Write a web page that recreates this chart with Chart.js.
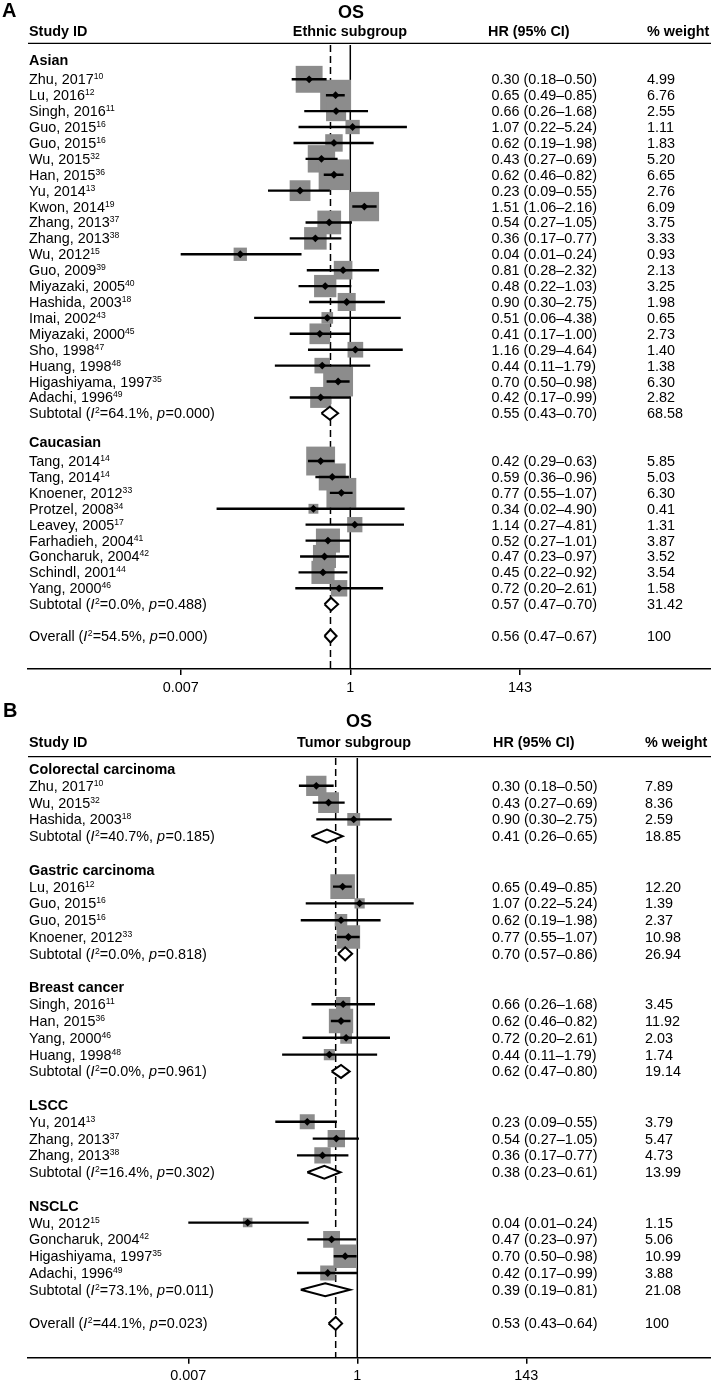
<!DOCTYPE html>
<html><head><meta charset="utf-8">
<script src="https://cdn.jsdelivr.net/npm/chart.js@4.4.1/dist/chart.umd.min.js"></script>
<style>
html,body{margin:0;padding:0;background:#fff;}
#wrap{position:relative;width:711px;height:1382px;overflow:hidden;background:#fff;}
canvas{position:absolute;left:0;}
</style></head><body>
<div id="wrap">
<canvas id="cA" width="711" height="698" style="top:0px"></canvas>
<canvas id="cB" width="711" height="684" style="top:698px"></canvas>
</div>
<script>
// ---------------- Panel A: ethnic subgroup ----------------
const A_title = "OS";
const A_headers = ["Study ID", "Ethnic subgroup", "HR (95% CI)", "% weight"];
const A_groups = ["Asian", "Caucasian"];
const A_names = ["Zhu, 2017","Lu, 2016","Singh, 2016","Guo, 2015","Guo, 2015","Wu, 2015","Han, 2015","Yu, 2014","Kwon, 2014","Zhang, 2013","Zhang, 2013","Wu, 2012","Guo, 2009","Miyazaki, 2005","Hashida, 2003","Imai, 2002","Miyazaki, 2000","Sho, 1998","Huang, 1998","Higashiyama, 1997","Adachi, 1996","Tang, 2014","Tang, 2014","Knoener, 2012","Protzel, 2008","Leavey, 2005","Farhadieh, 2004","Goncharuk, 2004","Schindl, 2001","Yang, 2000"];
const A_refs = ["10","12","11","16","16","32","36","13","19","37","38","15","39","40","18","43","45","47","48","35","49","14","14","33","34","17","41","42","44","46"];
const A_grp = [0,0,0,0,0,0,0,0,0,0,0,0,0,0,0,0,0,0,0,0,0,1,1,1,1,1,1,1,1,1];
const A_hr = [0.30,0.65,0.66,1.07,0.62,0.43,0.62,0.23,1.51,0.54,0.36,0.04,0.81,0.48,0.90,0.51,0.41,1.16,0.44,0.70,0.42,0.42,0.59,0.77,0.34,1.14,0.52,0.47,0.45,0.72];
const A_lo = [0.18,0.49,0.26,0.22,0.19,0.27,0.46,0.09,1.06,0.27,0.17,0.007,0.28,0.22,0.30,0.06,0.17,0.29,0.11,0.50,0.17,0.29,0.36,0.55,0.02,0.27,0.27,0.23,0.22,0.20];
const A_hi = [0.50,0.85,1.68,5.24,1.98,0.69,0.82,0.55,2.16,1.05,0.77,0.24,2.32,1.03,2.75,4.38,1.00,4.64,1.79,0.98,0.99,0.63,0.96,1.07,4.90,4.81,1.01,0.97,0.92,2.61];
const A_wt = [4.99,6.76,2.55,1.11,1.83,5.20,6.65,2.76,6.09,3.75,3.33,0.93,2.13,3.25,1.98,0.65,2.73,1.40,1.38,6.30,2.82,5.85,5.03,6.30,0.41,1.31,3.87,3.52,3.54,1.58];
const A_subI2 = [64.1, 0.0];
const A_subP = [0.000, 0.488];
const A_subHr = [0.55, 0.57];
const A_subLo = [0.43, 0.47];
const A_subHi = [0.70, 0.70];
const A_subWt = [68.58, 31.42];
const A_allI2 = 54.5, A_allP = 0.000, A_allHr = 0.56, A_allLo = 0.47, A_allHi = 0.67, A_allWt = 100;

// ---------------- Panel B: tumor subgroup ----------------
const B_title = "OS";
const B_headers = ["Study ID", "Tumor subgroup", "HR (95% CI)", "% weight"];
const B_groups = ["Colorectal carcinoma", "Gastric carcinoma", "Breast cancer", "LSCC", "NSCLC"];
const B_names = ["Zhu, 2017","Wu, 2015","Hashida, 2003","Lu, 2016","Guo, 2015","Guo, 2015","Knoener, 2012","Singh, 2016","Han, 2015","Yang, 2000","Huang, 1998","Yu, 2014","Zhang, 2013","Zhang, 2013","Wu, 2012","Goncharuk, 2004","Higashiyama, 1997","Adachi, 1996"];
const B_refs = ["10","32","18","12","16","16","33","11","36","46","48","13","37","38","15","42","35","49"];
const B_grp = [0,0,0,1,1,1,1,2,2,2,2,3,3,3,4,4,4,4];
const B_hr = [0.30,0.43,0.90,0.65,1.07,0.62,0.77,0.66,0.62,0.72,0.44,0.23,0.54,0.36,0.04,0.47,0.70,0.42];
const B_lo = [0.18,0.27,0.30,0.49,0.22,0.19,0.55,0.26,0.46,0.20,0.11,0.09,0.27,0.17,0.007,0.23,0.50,0.17];
const B_hi = [0.50,0.69,2.75,0.85,5.24,1.98,1.07,1.68,0.82,2.61,1.79,0.55,1.05,0.77,0.24,0.97,0.98,0.99];
const B_wt = [7.89,8.36,2.59,12.20,1.39,2.37,10.98,3.45,11.92,2.03,1.74,3.79,5.47,4.73,1.15,5.06,10.99,3.88];
const B_subI2 = [40.7, 0.0, 0.0, 16.4, 73.1];
const B_subP = [0.185, 0.818, 0.961, 0.302, 0.011];
const B_subHr = [0.41, 0.70, 0.62, 0.38, 0.39];
const B_subLo = [0.26, 0.57, 0.47, 0.23, 0.19];
const B_subHi = [0.65, 0.86, 0.80, 0.61, 0.81];
const B_subWt = [18.85, 26.94, 19.14, 13.99, 21.08];
const B_allI2 = 44.1, B_allP = 0.023, B_allHr = 0.53, B_allLo = 0.43, B_allHi = 0.64, B_allWt = 100;

// axis ticks (both panels)
const tickValues = [0.007, 1, 143];
const tickLabels = ["0.007", "1", "143"];

// ---------------- drawing ----------------
const FONT = '"Liberation Sans", Arial, Helvetica, sans-serif';
const FS = 14.4;

function fmtW(w) { return w === 100 ? "100" : w.toFixed(2); }
function fmtHR(h, l, u) { return h.toFixed(2) + " (" + l.toFixed(2) + "\u2013" + u.toFixed(2) + ")"; }

function drawRich(ctx, x, y, segs) {
  let cx = x;
  ctx.textAlign = 'left';
  segs.forEach(s => {
    let dy = 0;
    if (s.k === 'sup') { ctx.font = '8.6px ' + FONT; dy = -5; }
    else if (s.k === 'i') ctx.font = 'italic ' + FS + 'px ' + FONT;
    else if (s.k === 'b') ctx.font = 'bold ' + FS + 'px ' + FONT;
    else ctx.font = FS + 'px ' + FONT;
    ctx.fillText(s.t, cx, y + dy);
    cx += ctx.measureText(s.t).width + (s.k === 'i' ? 0.5 : 0);
  });
}

function makePanel(id, D, L) {
  const rows = [];
  let r = 0;
  D.groups.forEach((g, gi) => {
    rows.push({t: 'grp', gi, r: r++});
    D.grp.forEach((gg, k) => { if (gg === gi) rows.push({t: 'st', k, r: r++}); });
    rows.push({t: 'sub', gi, r: r++});
    r++;
  });
  rows.push({t: 'all', r});

  const yMin = (L.top - L.row0) / L.step;
  const yMax = (L.bottom - L.row0) / L.step;
  const studies = rows.filter(o => o.t === 'st');
  const sq = studies.map(o => ({x: D.hr[o.k], y: o.r}));
  const sqR = studies.map(o => (L.sqA + L.sqB * Math.sqrt(D.wt[o.k])) / Math.SQRT2);
  const ci = [];
  studies.forEach(o => { ci.push({x: D.lo[o.k], y: o.r}, {x: D.hi[o.k], y: o.r}, {x: D.hr[o.k], y: null}); });
  const dh = L.dHalf / L.step;
  const diamonds = [];
  rows.forEach(o => {
    let hr, lo, hi;
    if (o.t === 'sub') { hr = D.subHr[o.gi]; lo = D.subLo[o.gi]; hi = D.subHi[o.gi]; }
    else if (o.t === 'all') { hr = D.allHr; lo = D.allLo; hi = D.allHi; }
    else return;
    diamonds.push([{x: lo, y: o.r}, {x: hr, y: o.r - dh}, {x: hi, y: o.r}, {x: hr, y: o.r + dh}, {x: lo, y: o.r}]);
  });

  const datasets = [
    {type: 'line', data: [{x: 1, y: yMin}, {x: 1, y: yMax}], borderColor: '#000', borderWidth: 1.5, pointRadius: 0, order: 10},
    {type: 'line', data: [{x: D.allHr, y: yMin}, {x: D.allHr, y: yMax}], borderColor: '#000', borderWidth: 1.5, borderDash: [7, 4], pointRadius: 0, order: 9},
    {type: 'scatter', data: sq, pointStyle: 'rect', pointRadius: sqR, backgroundColor: '#8c8c8c', borderWidth: 0, order: 8},
    {type: 'line', data: ci, borderColor: '#000', borderWidth: 2.4, pointRadius: 0, spanGaps: false, order: 7},
    {type: 'scatter', data: sq, pointStyle: 'rectRot', pointRadius: 3.9, backgroundColor: '#000', borderWidth: 0, order: 6}
  ];
  diamonds.forEach(dd => datasets.push({type: 'line', data: dd, borderColor: '#000', borderWidth: 2, backgroundColor: '#fff', fill: 'shape', pointRadius: 0, order: 5}));

  const textPlugin = {
    id: 'forestText' + id,
    afterDraw(chart) {
      const ctx = chart.ctx, ys = chart.scales.y;
      ctx.save();
      ctx.fillStyle = '#000';
      ctx.textBaseline = 'alphabetic';
      ctx.textAlign = 'left';
      ctx.font = 'bold 20px ' + FONT;
      ctx.fillText(L.letter, L.letterX, L.letterY);
      ctx.font = 'bold 18px ' + FONT;
      ctx.textAlign = 'center';
      ctx.fillText(D.title, L.osX, L.osY);
      ctx.font = 'bold ' + FS + 'px ' + FONT;
      ctx.textAlign = 'left';
      ctx.fillText(D.headers[0], L.colName, L.hdrY);
      ctx.textAlign = 'center';
      ctx.fillText(D.headers[1], L.subHdrX, L.hdrY);
      ctx.textAlign = 'left';
      ctx.fillText(D.headers[2], L.hdrHRX, L.hdrY);
      ctx.fillText(D.headers[3], L.hdrWtX, L.hdrY);
      ctx.strokeStyle = '#000';
      ctx.lineWidth = 1.2;
      ctx.beginPath(); ctx.moveTo(L.left, L.ruleY); ctx.lineTo(711, L.ruleY); ctx.stroke();

      rows.forEach(o => {
        const yb = ys.getPixelForValue(o.r) + 5;
        if (o.t === 'grp') {
          drawRich(ctx, L.colName, yb + L.grpOff, [{t: D.groups[o.gi], k: 'b'}]);
        } else if (o.t === 'st') {
          drawRich(ctx, L.colName, yb, [{t: D.names[o.k], k: 'n'}, {t: D.refs[o.k], k: 'sup'}]);
          drawRich(ctx, L.colHR, yb, [{t: fmtHR(D.hr[o.k], D.lo[o.k], D.hi[o.k]), k: 'n'}]);
          drawRich(ctx, L.colWt, yb, [{t: fmtW(D.wt[o.k]), k: 'n'}]);
        } else {
          const isSub = o.t === 'sub';
          const i2 = isSub ? D.subI2[o.gi] : D.allI2;
          const p = isSub ? D.subP[o.gi] : D.allP;
          const lab = isSub ? 'Subtotal (' : 'Overall (';
          drawRich(ctx, L.colName, yb, [
            {t: lab, k: 'n'}, {t: 'I', k: 'i'}, {t: '2', k: 'sup'},
            {t: '=' + i2.toFixed(1) + '%, ', k: 'n'}, {t: 'p', k: 'i'},
            {t: '=' + p.toFixed(3) + ')', k: 'n'}]);
          const hr = isSub ? D.subHr[o.gi] : D.allHr;
          const lo = isSub ? D.subLo[o.gi] : D.allLo;
          const hi = isSub ? D.subHi[o.gi] : D.allHi;
          const wt = isSub ? D.subWt[o.gi] : D.allWt;
          drawRich(ctx, L.colHR, yb, [{t: fmtHR(hr, lo, hi), k: 'n'}]);
          drawRich(ctx, L.colWt, yb, [{t: fmtW(wt), k: 'n'}]);
        }
      });
      ctx.restore();
    }
  };

  return new Chart(document.getElementById(id), {
    type: 'line',
    data: {datasets},
    plugins: [textPlugin],
    options: {
      responsive: false, animation: false, devicePixelRatio: 1, events: [],
      layout: {autoPadding: false, padding: {left: L.left, right: 0, top: L.top, bottom: 0}},
      plugins: {legend: {display: false}, tooltip: {enabled: false}},
      scales: {
        x: {
          type: 'logarithmic', position: 'bottom',
          min: Math.pow(10, L.xMinLog), max: Math.pow(10, L.xMaxLog),
          afterBuildTicks: s => { s.ticks = tickValues.map(v => ({value: v})); },
          afterFit: s => { s.height = L.canvasH - L.bottom; },
          ticks: {callback: (v, i) => tickLabels[i], color: '#000', font: {family: FONT, size: FS}, padding: L.tickPad, maxRotation: 0, autoSkip: false},
          grid: {drawOnChartArea: false, drawTicks: true, tickLength: 6, color: '#000', lineWidth: 1.5},
          border: {color: '#000', width: 1.5}
        },
        y: {type: 'linear', reverse: true, min: yMin, max: yMax, display: false}
      }
    }
  });
}

makePanel('cA', {
  title: A_title, headers: A_headers, groups: A_groups, names: A_names, refs: A_refs, grp: A_grp,
  hr: A_hr, lo: A_lo, hi: A_hi, wt: A_wt,
  subI2: A_subI2, subP: A_subP, subHr: A_subHr, subLo: A_subLo, subHi: A_subHi, subWt: A_subWt,
  allI2: A_allI2, allP: A_allP, allHr: A_allHr, allLo: A_allLo, allHi: A_allHi, allWt: A_allWt
}, {
  canvasH: 698, top: 45, bottom: 669, left: 28, xMinLog: -4.095, xMaxLog: 4.583,
  row0: 63.4, step: 15.906, ruleY: 43.3, hdrY: 36, osX: 351, osY: 18, letter: 'A', letterX: 2, letterY: 17,
  colName: 29, colHR: 491.5, colWt: 647, hdrHRX: 488, hdrWtX: 647, subHdrX: 350,
  grpOff: -3, sqA: 3, sqB: 10.7, dHalf: 6.5, tickPad: 4
});

makePanel('cB', {
  title: B_title, headers: B_headers, groups: B_groups, names: B_names, refs: B_refs, grp: B_grp,
  hr: B_hr, lo: B_lo, hi: B_hi, wt: B_wt,
  subI2: B_subI2, subP: B_subP, subHr: B_subHr, subLo: B_subLo, subHi: B_subHi, subWt: B_subWt,
  allI2: B_allI2, allP: B_allP, allHr: B_allHr, allLo: B_allLo, allHi: B_allHi, allWt: B_allWt
}, {
  canvasH: 684, top: 60, bottom: 659.7, left: 28, xMinLog: -4.199, xMaxLog: 4.510,
  row0: 71, step: 16.8, ruleY: 58.7, hdrY: 48.7, osX: 359, osY: 29, letter: 'B', letterX: 3, letterY: 19,
  colName: 29, colHR: 492, colWt: 645, hdrHRX: 493, hdrWtX: 645, subHdrX: 354,
  grpOff: 0, sqA: 2.9, sqB: 6.2, dHalf: 6.5, tickPad: 4
});
</script>
</body></html>
